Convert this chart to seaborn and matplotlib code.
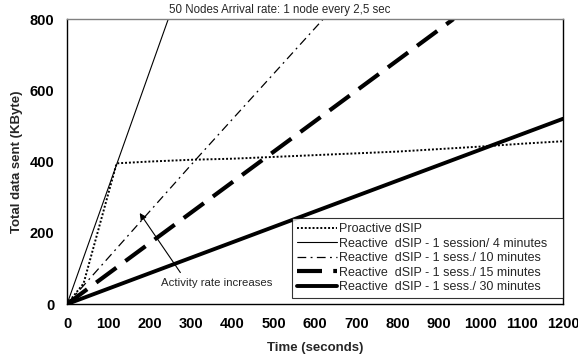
import matplotlib
matplotlib.use('Agg')
import matplotlib.pyplot as plt
import numpy as np
import pandas as pd
import seaborn as sns

# values
pro_time = [0, 40, 120, 200, 300, 400, 500, 600, 700, 800, 900, 1000, 1100, 1200]
pro_data = [0, 58, 395, 400, 405, 408, 413, 418, 423, 428, 435, 442, 450, 457]

r4_time = [0, 120, 245]
r4_data = [0, 392, 800]

r10_time = [0, 315, 620]
r10_data = [0, 410, 800]

r15_time = [0, 470, 935]
r15_data = [0, 402, 800]

r30_time = [0, 600, 1200]
r30_data = [0, 260, 520]

labels = ['Proactive dSIP',
          'Reactive  dSIP - 1 session/ 4 minutes   ',
          'Reactive  dSIP - 1 sess./ 10 minutes',
          'Reactive  dSIP - 1 sess./ 15 minutes',
          'Reactive  dSIP - 1 sess./ 30 minutes']

x_ticks = list(range(0, 1201, 100))
y_ticks = list(range(0, 801, 200))

sns.set_style('white')
plt.rcParams['font.family'] = ['Liberation Sans', 'DejaVu Sans']

fig, ax = plt.subplots(figsize=(5.78, 3.59), dpi=100)
fig.subplots_adjust(left=0.116, right=0.974, top=0.947, bottom=0.153)

series = [
    (pro_time, pro_data, dict(linewidth=1.4, linestyle=(0, (1, 1)))),
    (r4_time, r4_data, dict(linewidth=0.8, linestyle='-')),
    (r10_time, r10_data, dict(linewidth=0.9, linestyle=(0, (7, 3.5, 1.5, 3.5)))),
    (r15_time, r15_data, dict(linewidth=3.0, linestyle=(0, (6, 2.7)))),
    (r30_time, r30_data, dict(linewidth=2.8, linestyle='-')),
]
for (t, d, style), lab in zip(series, labels):
    df = pd.DataFrame({'time': t, 'data': d})
    sns.lineplot(data=df, x='time', y='data', ax=ax, color='black',
                 label=lab, **style)

ax.set_xlim(0, 1200)
ax.set_ylim(0, 800)
ax.set_xticks(x_ticks)
ax.set_yticks(y_ticks)
ax.tick_params(direction='in', length=4, width=0.8, colors='black',
               labelsize=10.5, pad=9)
for lbl in ax.get_xticklabels() + ax.get_yticklabels():
    lbl.set_fontweight('bold')

ax.set_xlabel('Time (seconds)', fontsize=9.5, fontweight='bold', labelpad=8)
ax.set_ylabel('Total data sent (KByte)', fontsize=9.5, fontweight='bold', labelpad=5)

for side in ['left', 'bottom', 'right']:
    ax.spines[side].set_color('black')
    ax.spines[side].set_linewidth(1.0)
ax.spines['top'].set_color('#808080')
ax.spines['top'].set_linewidth(1.0)

ax.text(247, 808, '50 Nodes Arrival rate: 1 node every 2,5 sec',
        fontsize=8.3, ha='left', va='bottom')

ax.annotate('', xy=(172, 262), xytext=(278, 82),
            arrowprops=dict(arrowstyle='-|>', color='black', lw=0.8,
                            mutation_scale=10))
ax.text(362, 59, 'Activity rate increases', fontsize=8.2, ha='center', va='center')

leg = ax.legend(loc='lower right', bbox_to_anchor=(1.0, 0.02), fontsize=9,
                frameon=True, fancybox=False, handlelength=3.2,
                handletextpad=0.15, borderpad=0.4, labelspacing=0.2,
                borderaxespad=0.0)
leg.get_frame().set_edgecolor('black')
leg.get_frame().set_linewidth(0.8)

fig.savefig('out.png', dpi=100)
